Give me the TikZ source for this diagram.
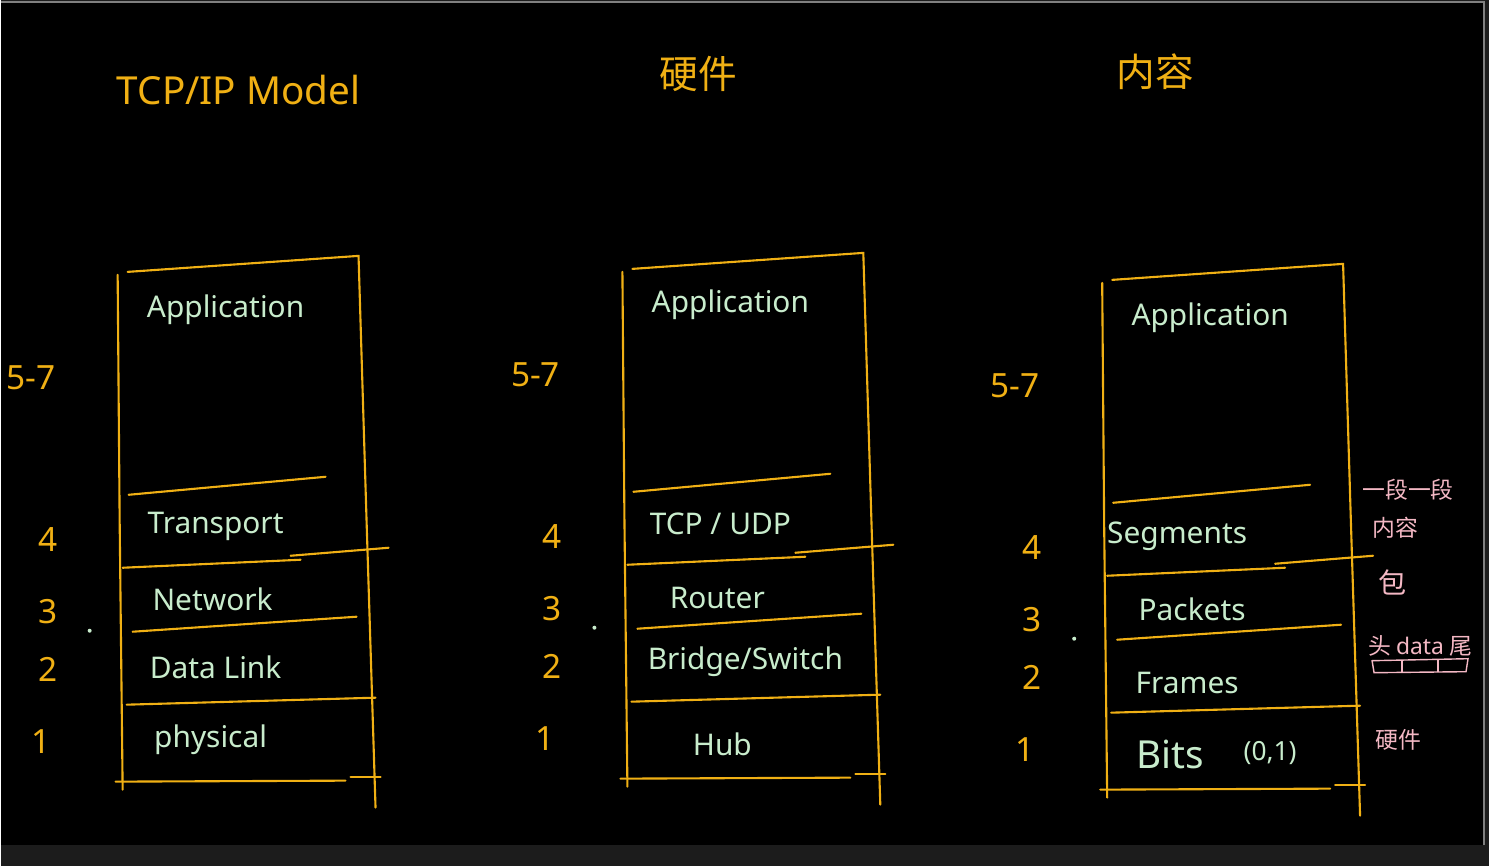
\documentclass[tikz,border=0pt]{standalone}
\usepackage{fontspec}
\setmainfont{Noto Sans}
\newfontfamily\cjk{Noto Sans CJK SC}
\usetikzlibrary{positioning}
\definecolor{pen}{RGB}{240,176,20}
\definecolor{chalk}{RGB}{200,236,204}
\definecolor{rose}{RGB}{244,184,196}
\definecolor{edge}{RGB}{28,28,28}

\begin{document}
\begin{tikzpicture}[x=0.02cm, y=-0.02cm,
    ln/.style={pen, line width=1.2pt, line cap=round},
    lay/.style={chalk, font=\fontsize{17}{19}\selectfont},
    num/.style={pen, font=\fontsize{19}{21}\selectfont},
    ttl/.style={pen, font=\fontsize{22}{24}\selectfont},
    note/.style={rose, font=\cjk\fontsize{13}{15}\selectfont}]
    % background
    \fill[edge] (0,0) rectangle (1489,866);
    \fill[black] (0,3) rectangle (1484,845);
    \draw[gray, line width=0.8pt] (0,2) -- (1484,2) -- (1484,845);
    \useasboundingbox (0,0) rectangle (1489,866);

    % the three stacks
    \foreach \dx/\dy in {0/0, 505/-3, 985/8} {
      \begin{scope}[shift={(\dx,\dy)}]
        \draw[ln] (117,275) -- (119,520) -- (122,790);
        \draw[ln] (127,272) -- (358,256) -- (366,520) -- (375,808);
        \draw[ln] (128,495) -- (325,477);
        \draw[ln] (122,568) -- (300,560);
        \draw[ln] (290,556) -- (388,548);
        \draw[ln] (132,632) -- (356,617);
        \draw[ln] (126,705) -- (375,698);
        \draw[ln] (115,782) -- (345,781);
        \draw[ln] (350,777) -- (380,777);
        \node[num] (a\dx) at (30,378) {5-7};
        \node[num] (b\dx) at (47,540) {4};
        \node[num] (c\dx) at (47,612) {3};
        \node[num] (d\dx) at (47,670) {2};
        \node[num] (e\dx) at (40,742) {1};
        \fill[chalk] (89,631) circle (2);
      \end{scope}
    }

    % titles
    \node[ttl] (t1) at (238,90) {TCP/IP Model};
    \node[ttl, font=\cjk\fontsize{22}{24}\selectfont] (t2) at (698,74) {硬件};
    \node[ttl, font=\cjk\fontsize{22}{24}\selectfont] (t3) at (1155,72) {内容};

    % layers
    \node[lay] (app1) at (225,310) {Application};
    \node[lay] (tr1) at (215,527) {Transport};
    \node[lay] (nw1) at (212,600) {Network};
    \node[lay] (dl1) at (215,668) {Data Link};
    \node[lay] (ph1) at (210,740) {physical};

    \node[lay] (app2) at (730,305) {Application};
    \node[lay] (tr2) at (720,524) {TCP / UDP};
    \node[lay] (nw2) at (717,598) {Router};
    \node[lay] (dl2) at (745,662) {Bridge/Switch};
    \node[lay] (ph2) at (722,745) {Hub};

    \node[lay] (app3) at (1210,318) {Application};
    \node[lay] (tr3) at (1177,537) {Segments};
    \node[lay] (nw3) at (1192,610) {Packets};
    \node[lay] (dl3) at (1187,683) {Frames};
    \node[lay, font=\fontsize{22}{24}\selectfont] (ph3) at (1170,755) {Bits};
    \node[lay, font=\fontsize{15}{17}\selectfont] (bit) at (1270,753) {(0,1)};

    % notes
    \node[note] (n1) at (1408,490) {一段一段};
    \node[note] (n2) at (1395,528) {内容};
    \node[note, font=\cjk\fontsize{16}{18}\selectfont] (n3) at (1392,583) {包};
    \node[note] (n4) at (1420,646) {头 {\rmfamily data} 尾};
    \draw[rose, line width=0.8pt] (1372,661) -- (1468,659) -- (1466,672) -- (1374,673) -- cycle;
    \draw[rose, line width=0.8pt] (1402,661) -- (1402,673) (1438,660) -- (1438,672);
    \node[note] (n5) at (1398,740) {硬件};
\end{tikzpicture}
\end{document}
